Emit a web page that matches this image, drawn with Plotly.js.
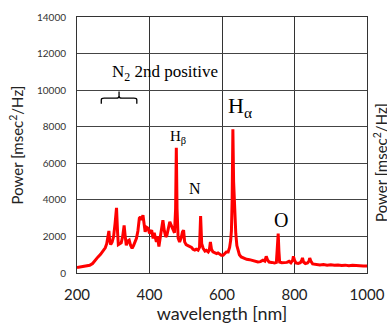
<!DOCTYPE html>
<html><head><meta charset="utf-8">
<script src="https://cdn.plot.ly/plotly-3.0.1.min.js"></script>
<style>html,body{margin:0;padding:0;background:#fff;}#chart{width:387px;height:324px;}</style>
</head><body><div id="chart"></div>
<script>
var wavelength = [200,205,215,225,235,243,250,258,265,272,278,282,285,288,290,293,297,301,305,309,312,314,318,322,326,330,333,336,340,344,348,352,356,360,364,368,372,375,378,382,385,388,392,396,400,403,406,410,413,416,419,422,426,430,434,437,441,445,448,452,456,460,465,469,472,474,476,479,483,487,491,494,497,501,506,511,516,520,525,529,534,538,541,544,548,553,557,562,565,568,571,575,580,585,589,594,598,603,608,612,617,621,624,626,628,630,632,635,638,641,644,648,653,660,668,676,685,692,699,706,713,718,722,726,730,737,745,750,753,755,757,759,765,773,779,785,790,795,797,800,804,810,816,820,822,825,830,836,840,842,845,850,860,870,880,890,900,910,920,930,940,950,960,970,980,990,1000];
var power = [300,320,360,380,420,520,720,880,1020,1200,1380,1600,1900,2300,1800,1550,1700,2000,2700,3560,2200,1550,1600,1650,2000,2600,2000,1520,1750,1800,1500,1350,1500,1700,1900,2300,3000,3070,2900,3160,2700,2250,2500,2450,2170,2300,2340,1890,2200,1950,1700,2000,1450,2000,2600,2890,2300,1970,2070,2400,2800,2600,2340,2200,3500,6850,3500,1900,1700,1900,2250,2340,1700,1550,1500,1450,1400,1300,1250,1300,1250,1400,3120,1600,1350,1200,1240,1150,1250,1700,1300,1150,1100,1060,1100,1000,970,970,1050,1150,1150,1400,1800,2300,4000,7860,5000,3000,2160,1500,1240,1000,880,800,750,730,680,640,600,620,700,650,910,700,600,580,550,580,1400,2160,1200,600,560,550,580,640,560,700,910,700,550,520,560,700,820,600,520,550,650,820,650,500,460,440,460,430,450,420,440,410,430,400,420,390,400,380,380];
var xTicks = [200,400,600,800,1000];
var yTicks = [0,2000,4000,6000,8000,10000,12000,14000];
var yTickText = ['0','2000','4000','6000','8000','10000','12000','14000'];
var yTitle = 'Power [msec<sup>2</sup>/Hz]';
var xTitle = 'wavelength [nm]';
var labels = ['N<sub>2</sub> 2nd positive','H<sub>β</sub>','N','H<sub>α</sub>','O'];
var labelX = [442,478,525,649,762];
var labelY = [10940,7450,4640,9100,2890];
var labelSize = [17,15,16,22,20];

var serif = 'Liberation Serif, Times New Roman, serif';
var sans = 'Lato, sans-serif';
var anns = labels.map(function(t,i){
  return {x:labelX[i], y:labelY[i], xref:'x', yref:'y', text:t, showarrow:false,
    font:{family:serif, size:labelSize[i], color:'#000000'}};
});
anns.push({xref:'paper', yref:'paper', x:1, y:0.43, xshift:14, text:yTitle, textangle:-90,
  showarrow:false, xanchor:'center', yanchor:'middle', font:{family:sans, size:15, color:'#222222'}});

var layout = {
  width:387, height:324,
  margin:{l:77, r:20, t:17, b:51},
  paper_bgcolor:'#fff', plot_bgcolor:'#fff',
  showlegend:false,
  font:{family:sans, color:'#222222'},
  xaxis:{range:[200,1000], tickvals:xTicks, ticks:'', showgrid:true, gridcolor:'#333', gridwidth:1,
    showline:true, linecolor:'#333', linewidth:1, mirror:true, zeroline:false, ticklabelstandoff:8,
    tickfont:{family:sans, size:15, color:'#222222'},
    title:{text:xTitle, font:{family:sans, size:18, color:'#222222'}, standoff:5}},
  yaxis:{range:[0,14000], tickvals:yTicks, ticktext:yTickText, ticks:'', showgrid:true, gridcolor:'#444', gridwidth:1,
    showline:true, linecolor:'#333', linewidth:1, mirror:true, zeroline:false, ticklabelstandoff:8,
    tickfont:{family:sans, size:10, color:'#333333'},
    title:{text:yTitle, font:{family:sans, size:15, color:'#222222'}, standoff:9}},
  annotations:anns,
  shapes:[{type:'path', xref:'x', yref:'y',
    path:'M 267 9250 L 267 9480 Q 267 9560 275 9560 L 308 9560 Q 316 9560 316 9680 L 316 9920 M 316 9680 Q 316 9560 324 9560 L 357 9560 Q 365 9560 365 9480 L 365 9250',
    line:{color:'#000', width:1.3}}]
};

Plotly.newPlot('chart', [{x:wavelength, y:power, type:'scatter', mode:'lines',
  line:{color:'#ff0000', width:3}, hoverinfo:'none'}], layout, {displayModeBar:false, staticPlot:true});
</script></body></html>
